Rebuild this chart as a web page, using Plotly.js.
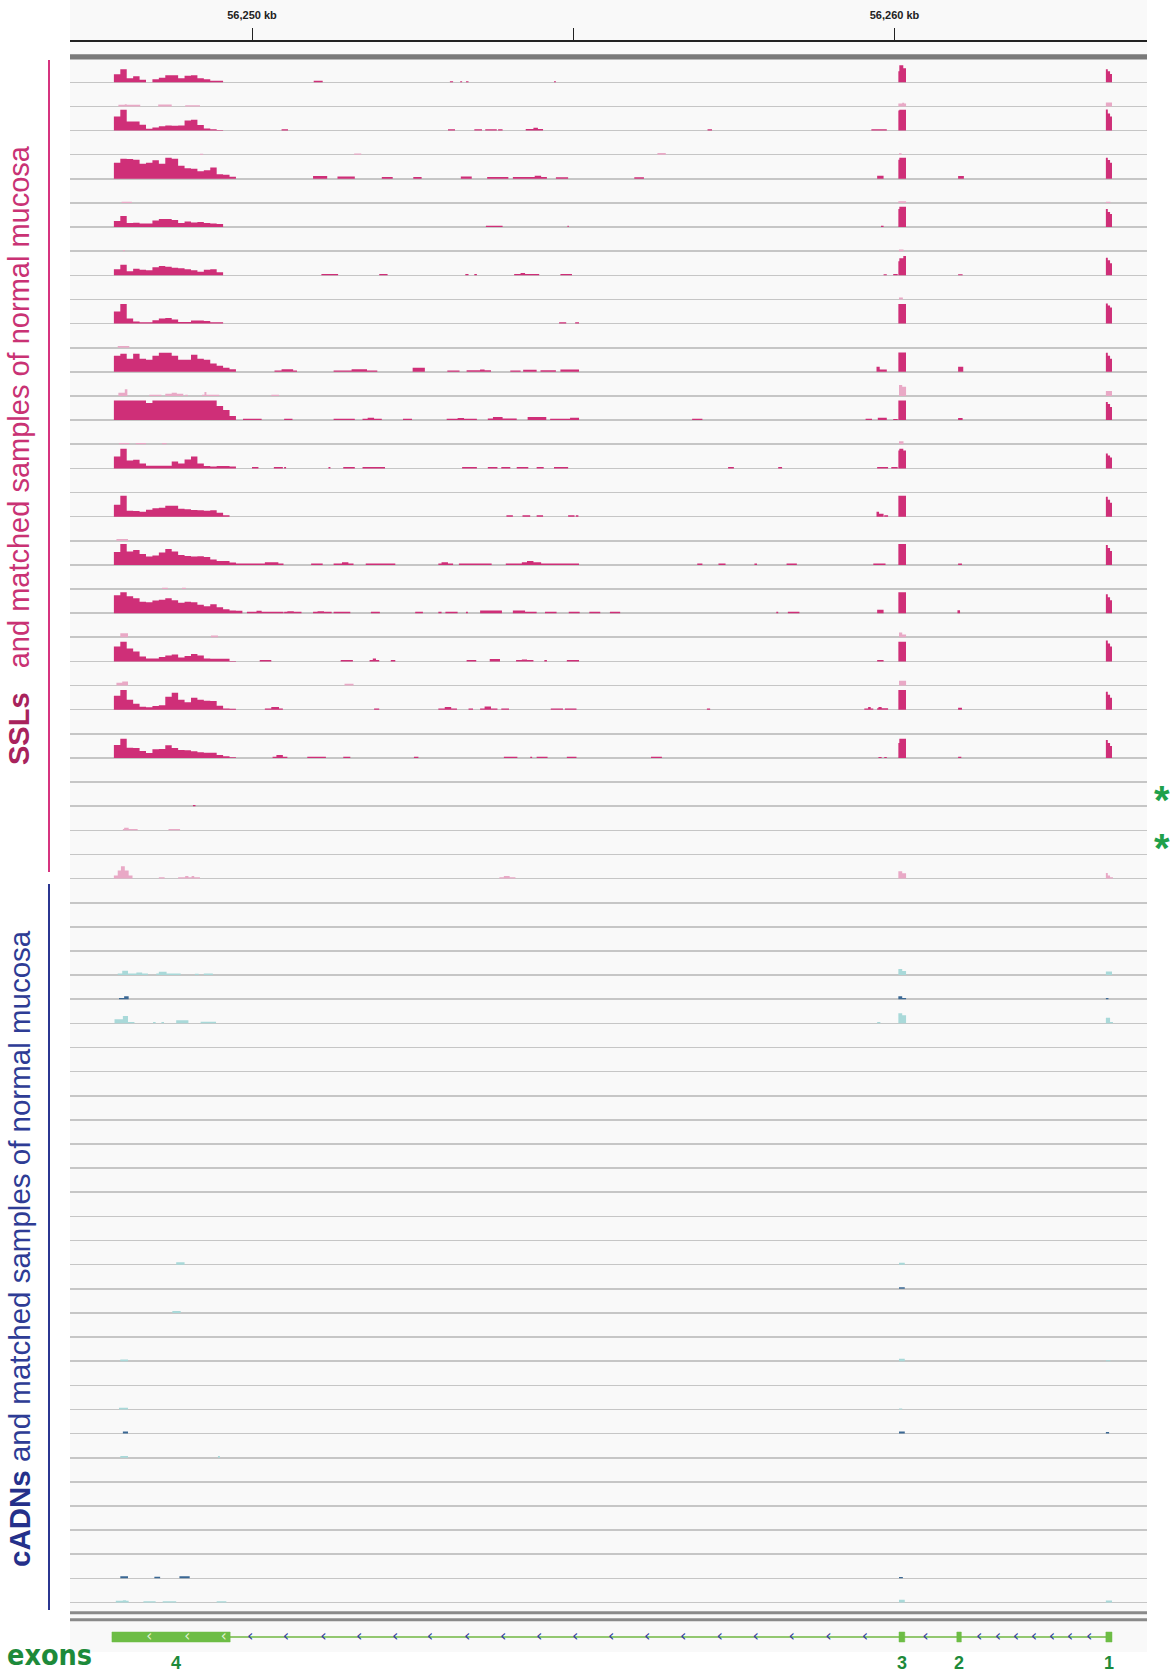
<!DOCTYPE html>
<html>
<head>
<meta charset="utf-8">
<script src="https://cdn.plot.ly/plotly-3.0.1.min.js"></script>
<style>html,body{margin:0;padding:0;background:#fff;}#chart{width:1172px;height:1673px;}</style>
</head>
<body>
<div id="chart"></div>
<script>
// ---------- axis / ruler ----------
const X_RANGE = [56247.167, 56263.930];
const RULER_TICKS = [56250, 56255, 56260];
const RULER_TEXT = ['<b>56,250 kb</b>', '', '<b>56,260 kb</b>'];

// ---------- shared coverage grid (3' UTR bins, exon 3 and exon 1 sub-bins), kb ----------
const GRID_START = [56247.85,56247.95,56248.05,56248.15,56248.25,56248.35,56248.45,56248.55,56248.65,56248.75,56248.85,56248.95,56249.05,56249.15,56249.25,56249.35,56249.45,56249.55,56249.65,56249.75, 56260.06,56260.075,56260.137, 56263.29,56263.32,56263.355];
const GRID_END   = [56247.95,56248.05,56248.15,56248.25,56248.35,56248.45,56248.55,56248.65,56248.75,56248.85,56248.95,56249.05,56249.15,56249.25,56249.35,56249.45,56249.55,56249.65,56249.75,56249.85, 56260.075,56260.137,56260.179, 56263.32,56263.355,56263.385];

// ---------- SSL tumour coverage on the grid ----------
const r01_cov = [8,13,4,6,2.5,0,3,4.5,7,7,4,6.5,7,4,3,1.5,1.5,0,0,0, 11,17,14, 13,11,8.3];
const r03_cov = [14,20.7,9,9,5.7,1.7,3,4.3,5,4.7,5,10,10.7,5.5,2,1.3,0.5,0,0,0, 20,20.7,20.7, 21,17,14];
const r05_cov = [16,20,19.7,19,15,16,18.5,15,21,20,13,10.5,10,7.5,8.5,11.3,4.5,4,2,0, 19,21,21, 21,18.7,16];
const r07_cov = [6,11,4,4.3,3.5,3.5,6.5,8,8,7,4,5.5,4.7,5,4,3.5,3,0,0,0, 18,20.3,20.3, 18,15,13];
const r09_cov = [6,10.5,4,6.5,5.5,5,8,9.3,8.5,7.7,7,6,5,3.7,5.7,6,3,0,0,0, 14,17,19.3, 17.7,15,12];
const r11_cov = [12,19.7,5,2,1.3,1.3,3.3,5,5.7,4,1.5,1.7,3,3,2.5,1.3,1.3,0,0,0, 19.7,19.7,19.7, 20,18,16];
const r13_cov = [16,18,13,18,13,12,16,19,19,16,12,12,17,13,12,8.3,6,4,2.5,0, 19.3,19.3,19.3, 19,16,13];
const r15_cov = [19.7,19.7,19.7,19.7,19.7,17,19.7,19.7,19.7,19.7,19.7,19.7,19.7,19.7,19.7,19.7,14,10,4,0, 19.7,19.7,19.7, 18,16,13];
const r17_cov = [12,19.7,8,8.7,5,2.7,2.7,2.7,2.7,7,5,9,12,5,2.5,2,2.5,2.3,2,0, 18,19.7,18, 15,13,11];
const r19_cov = [12,21,6,5.7,5,7,8.3,9,11,11,8,7.5,6.7,6.5,6,6.5,4,1.3,0,0, 21,21,21, 20,17,14];
const r21_cov = [13,21,13.5,15,11,8.5,9.5,12.5,16,13.5,10,9,8.3,8.7,8,5.5,4,4,2.3,1.5, 21,21,21, 20,17,14];
const r23_cov = [18,21,17,15,11.5,11,12.7,13.3,15,13,10.3,11.5,11,8.5,7,9,6,4,2.7,2.5, 21,21,21, 19,16,13];
const r25_cov = [15,19.7,13,10,5,3,3,4.5,6,7,4,5.3,7.5,6,3,2.7,2.7,2.7,0.5,0, 19.7,19.7,19.7, 21,18,15];
const r27_cov = [14,19.7,10,6,3,2.5,3.7,4.5,13,17,10,7.5,12,10,9,8.7,4,1.3,1,0, 19.7,19.7,19.7, 18,15,12];
const r29_cov = [13,19.3,10.3,10,7,5,8.7,9,12.7,10,8,7.7,6.7,5.7,5.3,5.3,3,1.7,0.7,0, 15,19.3,19.3, 18,15,12];

// ---------- other covered blocks per track: [start kb, end kb, height] ----------
const r01_blk = [[56250.96,56251.10,1.5],[56253.08,56253.13,1],[56253.24,56253.27,1],[56253.33,56253.37,1],[56254.70,56254.73,1]];
const r02_blk = [[56247.92,56248.26,1.7],[56248.02,56248.05,2.3],[56248.54,56248.75,2],[56248.96,56249.19,1.3],[56260.06,56260.18,3],[56260.12,56260.15,3.8],[56263.29,56263.385,4]];
const r03_blk = [[56250.46,56250.56,1.3],[56253.05,56253.16,1.3],[56253.46,56253.58,1.3],[56253.63,56253.81,1.3],[56253.83,56253.90,1.3],[56254.26,56254.53,1.5],[56254.38,56254.45,2.7],[56257.09,56257.16,1.3],[56259.64,56259.88,1.2]];
const r04_blk = [[56249.19,56249.24,1],[56251.59,56251.70,1.3],[56256.31,56256.44,1.7],[56260.07,56260.11,1.5]];
const r05_blk = [[56250.95,56251.17,2.7],[56251.33,56251.60,2.3],[56252.02,56252.19,1.7],[56252.51,56252.64,1.7],[56253.25,56253.42,2.3],[56253.66,56253.99,1.7],[56254.06,56254.59,1.7],[56254.40,56254.50,3],[56254.73,56254.92,1.5],[56255.95,56256.10,1.5],[56259.73,56259.83,3],[56260.99,56261.08,2.7]];
const r06_blk = [[56247.97,56248.13,1.3],[56260.06,56260.18,1.7],[56263.29,56263.36,1.3]];
const r07_blk = [[56253.64,56253.90,1.3],[56254.91,56254.93,1.3],[56259.79,56259.83,1.3]];
const r08_blk = [[56247.99,56248.02,1.3],[56260.07,56260.14,1.7]];
const r09_blk = [[56251.08,56251.34,1.3],[56251.98,56252.11,1.3],[56253.32,56253.37,1.3],[56253.46,56253.50,1.3],[56254.08,56254.47,1.3],[56254.18,56254.25,2.3],[56254.80,56254.98,1.3],[56259.83,56259.88,1],[56259.98,56260.05,1.3],[56260.99,56261.06,1]];
const r10_blk = [[56260.07,56260.13,2]];
const r11_blk = [[56254.78,56254.89,1.3],[56255.03,56255.09,1.3]];
const r12_blk = [[56247.91,56248.09,1.7]];
const r13_blk = [[56250.35,56250.70,1.3],[56250.46,56250.64,2.7],[56251.27,56251.95,1.3],[56251.55,56251.79,2.7],[56252.50,56252.69,4],[56253.04,56253.23,1.3],[56253.34,56253.72,1.5],[56253.55,56253.62,2.3],[56254.02,56254.18,1.3],[56254.22,56254.43,2],[56254.49,56254.73,1.7],[56254.80,56255.09,2.3],[56259.72,56259.77,5],[56259.77,56259.88,2.3],[56260.99,56261.07,5]];
const r14_blk = [[56247.92,56248.02,3.3],[56248.02,56248.06,6.7],[56248.40,56248.59,1.3],[56248.65,56248.93,2.3],[56248.75,56248.83,3.3],[56248.96,56249.00,1.3],[56249.22,56249.49,1.3],[56249.26,56249.29,4],[56250.30,56250.42,1.3],[56260.07,56260.12,11],[56260.12,56260.18,9.3],[56263.29,56263.385,5]];
const r15_blk = [[56249.86,56250.15,1.3],[56250.50,56250.63,1.3],[56251.27,56251.60,1.3],[56251.72,56252.02,1.3],[56251.80,56251.90,2.3],[56252.35,56252.49,1.3],[56253.03,56253.50,1.3],[56253.20,56253.30,2],[56253.67,56254.12,1.5],[56253.75,56253.90,3],[56254.29,56254.58,3],[56254.64,56255.09,1.3],[56254.95,56255.09,2.3],[56256.85,56257.01,1.3],[56259.55,56259.65,1.3],[56259.74,56259.88,2.3],[56259.98,56260.05,1],[56260.99,56261.06,2]];
const r16_blk = [[56247.93,56248.09,1.3],[56248.19,56248.35,1.3],[56248.60,56248.67,1.3],[56260.07,56260.14,3]];
const r17_blk = [[56250.00,56250.10,1.3],[56250.34,56250.48,1.3],[56250.50,56250.53,1.3],[56251.19,56251.22,1.3],[56251.42,56251.60,1.3],[56251.72,56252.07,1.3],[56253.27,56253.50,1.3],[56253.67,56253.82,1.3],[56253.88,56254.02,1.3],[56254.12,56254.30,1.3],[56254.43,56254.54,1.3],[56254.70,56254.92,1.3],[56257.41,56257.50,1.3],[56258.19,56258.25,1.3],[56259.73,56259.90,1.3],[56259.95,56260.05,1.3]];
const r19_blk = [[56253.96,56254.06,1.3],[56254.21,56254.33,1.3],[56254.43,56254.53,1.3],[56254.92,56255.02,1.3],[56255.04,56255.08,1.3],[56259.72,56259.76,5],[56259.76,56259.83,3],[56259.84,56259.90,1.3]];
const r20_blk = [[56247.89,56248.07,1.7]];
const r21_blk = [[56249.85,56250.49,1.3],[56250.20,56250.41,2.7],[56250.92,56251.10,1.3],[56251.27,56251.58,1.3],[56251.40,56251.50,2.7],[56251.77,56252.23,1.3],[56252.90,56253.13,1.3],[56252.95,56253.05,2.7],[56253.22,56253.73,1.3],[56253.95,56255.09,1.3],[56254.20,56254.50,2.7],[56254.28,56254.38,4],[56256.93,56257.01,1.3],[56257.26,56257.37,1.3],[56257.82,56257.86,1.3],[56258.32,56258.48,1.3],[56259.67,56259.86,1.3],[56260.99,56261.05,1.3]];
const r22_blk = [[56248.60,56248.69,1.3],[56248.91,56248.97,1.3]];
const r23_blk = [[56249.92,56250.49,1.3],[56250.07,56250.15,2.3],[56250.50,56250.77,1.5],[56250.55,56250.65,2],[56250.95,56251.24,1.5],[56251.02,56251.12,2],[56251.27,56251.53,1.3],[56251.85,56251.99,1.3],[56252.54,56252.66,1.3],[56252.90,56252.95,1.3],[56253.01,56253.20,1.3],[56253.33,56253.36,1.3],[56253.55,56253.89,2.7],[56254.06,56254.25,2.7],[56254.25,56254.43,1.3],[56254.56,56254.74,1.3],[56254.93,56255.10,1.3],[56255.25,56255.42,1.3],[56255.57,56255.73,1.3],[56258.16,56258.19,1.3],[56258.34,56258.52,1.3],[56259.73,56259.83,3.5],[56260.98,56261.02,3]];
const r24_blk = [[56247.95,56248.07,4],[56249.36,56249.47,1.7],[56260.07,56260.12,4.7],[56260.12,56260.18,2.7]];
const r25_blk = [[56250.12,56250.30,1.3],[56251.38,56251.57,1.3],[56251.83,56251.98,1.3],[56251.88,56251.93,3],[56252.16,56252.23,1.3],[56253.34,56253.49,1.3],[56253.70,56253.86,2.3],[56254.11,56254.38,1.3],[56254.20,56254.28,2],[56254.55,56254.59,1.3],[56254.90,56255.09,1.3],[56259.73,56259.83,1.3]];
const r26_blk = [[56247.89,56247.98,2.7],[56247.98,56248.07,4],[56251.44,56251.58,1.7],[56260.07,56260.18,4.7]];
const r27_blk = [[56250.20,56250.48,1.3],[56250.30,56250.42,2.7],[56251.90,56251.98,1.3],[56252.90,56253.19,1.3],[56253.00,56253.10,2.7],[56253.37,56253.44,1.3],[56253.55,56253.82,1.3],[56253.62,56253.72,3.3],[56253.88,56254.00,1.3],[56254.65,56254.84,1.3],[56254.87,56255.05,1.3],[56257.08,56257.13,1.3],[56259.53,56259.67,1.3],[56259.59,56259.63,2.7],[56259.73,56259.90,1.5],[56259.75,56259.80,2.7],[56260.99,56261.05,2]];
const r29_blk = [[56250.32,56250.55,1.3],[56250.38,56250.48,3],[56250.86,56251.15,1.3],[56251.42,56251.53,1.3],[56252.52,56252.59,1.3],[56253.92,56254.13,1.3],[56254.33,56254.36,1.3],[56254.43,56254.60,1.3],[56254.90,56255.05,1.3],[56256.21,56256.38,1.3],[56259.75,56259.80,1],[56259.84,56259.88,1],[56260.99,56261.04,1.3]];
const r31_blk = [[56249.08,56249.12,1.3]];
const r32_blk = [[56247.99,56248.22,1.3],[56248.01,56248.08,2.7],[56248.70,56248.88,1.3]];
const r34_blk = [[56247.85,56247.91,3],[56247.91,56247.96,8],[56247.96,56248.02,12.3],[56248.02,56248.08,8],[56248.08,56248.14,3],[56248.55,56248.64,1.3],[56248.85,56249.19,1.3],[56248.96,56249.01,2.7],[56249.06,56249.10,2.7],[56253.85,56254.10,1.3],[56253.92,56254.01,2.7],[56260.06,56260.12,7.3],[56260.12,56260.18,5.3],[56263.29,56263.32,5.7],[56263.32,56263.355,3],[56263.355,56263.40,1.3]];
// cADN tracks
const r38_blk = [[56247.91,56248.38,1.7],[56247.98,56248.07,4.3],[56248.20,56248.29,2.7],[56248.51,56248.89,1.7],[56248.55,56248.67,3.3],[56249.11,56249.17,1.3],[56249.25,56249.39,1.7],[56260.06,56260.12,6],[56260.12,56260.18,4],[56263.29,56263.385,3.7]];
const r39_blk = [[56247.93,56248.01,1.3],[56248.01,56248.08,3],[56260.06,56260.12,3],[56260.12,56260.18,1.3],[56263.29,56263.33,1.3]];
const r40_blk = [[56247.86,56247.99,4],[56247.99,56248.07,7.3],[56248.07,56248.17,1.3],[56248.46,56248.50,1.3],[56248.59,56248.63,1.3],[56248.82,56249.01,3],[56249.20,56249.44,1.7],[56259.73,56259.78,1.3],[56260.06,56260.12,10],[56260.12,56260.18,8],[56263.29,56263.355,5.7],[56263.355,56263.40,1.3]];
const r50_blk = [[56248.82,56248.95,2.3],[56260.07,56260.16,2]];
const r51_blk = [[56260.07,56260.16,1.5]];
const r52_blk = [[56248.76,56248.89,2]];
const r54_blk = [[56247.95,56248.07,1.7],[56260.07,56260.16,2.5],[56263.29,56263.36,1]];
const r56_blk = [[56247.93,56248.07,1.7],[56260.07,56260.12,1]];
const r57_blk = [[56247.99,56248.07,2],[56260.07,56260.16,2],[56263.29,56263.34,1.5]];
const r58_blk = [[56247.95,56248.07,1.7],[56249.47,56249.50,1.7]];
const r63_blk = [[56247.95,56248.07,2],[56248.48,56248.57,1.7],[56248.87,56249.03,2],[56260.07,56260.13,1.3]];
const r64_blk = [[56247.88,56248.08,1.7],[56247.99,56248.04,2.3],[56248.31,56248.50,1.3],[56248.61,56248.82,1.3],[56249.45,56249.60,1.3],[56260.07,56260.16,2.7],[56263.29,56263.385,2]];

const ROW_COV = [r01_cov,null,r03_cov,null,r05_cov,null,r07_cov,null,r09_cov,null,r11_cov,null,r13_cov,null,r15_cov,null,r17_cov,null,r19_cov,null,r21_cov,null,r23_cov,null,r25_cov,null,r27_cov,null,r29_cov,
  null,null,null,null,null,null,null,null,null,null,null,null,null,null,null,null,null,null,null,null,null,null,null,null,null,null,null,null,null,null,null,null,null,null,null,null];
const ROW_BLK = [r01_blk,r02_blk,r03_blk,r04_blk,r05_blk,r06_blk,r07_blk,r08_blk,r09_blk,r10_blk,r11_blk,r12_blk,r13_blk,r14_blk,r15_blk,r16_blk,r17_blk,[],
  r19_blk,r20_blk,r21_blk,r22_blk,r23_blk,r24_blk,r25_blk,r26_blk,r27_blk,[],r29_blk,[],r31_blk,r32_blk,[],r34_blk,
  [],[],[],r38_blk,r39_blk,r40_blk,[],[],[],[],[],[],[],[],[],r50_blk,r51_blk,r52_blk,[],r54_blk,[],r56_blk,r57_blk,r58_blk,[],[],[],[],r63_blk,r64_blk];

// ---------- gene model ----------
const EXON_START = [56247.82, 56260.07, 56260.97, 56263.29];
const EXON_END   = [56249.66, 56260.16, 56261.04, 56263.385];
const EXON_LABEL = ['4', '3', '2', '1'];
const EXON_LABEL_SHIFT = [5, 0, 0, 0];
const CHEVRONS = [56249.97,56250.53,56251.11,56251.67,56252.23,56252.77,56253.35,56253.91,56254.47,56255.03,56255.59,56256.15,56256.71,56257.28,56257.84,56258.40,56258.97,56259.54,56260.48,56261.32,56261.61,56261.89,56262.17,56262.45,56262.73,56263.03];
const CHEVRONS_IN_EXON = [56248.40, 56248.99, 56249.56];

// ---------- styling ----------
const H = 1673;
const FONT = 'Liberation Sans, Arial, Helvetica, sans-serif';
const SSL_T = '#cf2f78', SSL_N = '#e9a9c6', ADN_T = '#3b6894', ADN_N = '#a9d9d9';
const N_ROWS = 64, FIRST_BASE = 82.3, ROW_STEP = 24.13, Y_TOP = 22.63, Y_BOT = 1.5;
const py = px => 1 - px / H;

function stepXY(cov, blk) {
  const segs = [];
  if (cov) cov.forEach((h, i) => { if (h > 0) segs.push([GRID_START[i], GRID_END[i], h]); });
  (blk || []).forEach(b => segs.push(b));
  const edges = Array.from(new Set(segs.flatMap(s => [s[0], s[1]]))).sort((a, b) => a - b);
  const x = [X_RANGE[0]], y = [0];
  for (let i = 0; i < edges.length - 1; i++) {
    const a = edges[i], b = edges[i + 1], m = (a + b) / 2;
    let h = 0;
    segs.forEach(s => { if (s[0] <= m && s[1] >= m && s[2] > h) h = s[2]; });
    x.push(a); y.push(h);
  }
  if (edges.length) { x.push(edges[edges.length - 1]); y.push(0); }
  x.push(X_RANGE[1]); y.push(0);
  return { x, y };
}

const traces = [];
const layout = {
  width: 1172, height: H,
  margin: { l: 70, r: 25, t: 0, b: 0 },
  paper_bgcolor: '#ffffff', plot_bgcolor: 'rgba(0,0,0,0)',
  showlegend: false,
  font: { family: FONT },
  xaxis: {
    range: X_RANGE, domain: [0, 1], anchor: 'free', position: py(40.5), side: 'top',
    tickvals: RULER_TICKS, ticktext: RULER_TEXT, ticks: 'outside', ticklen: 12, tickwidth: 1, tickcolor: '#222',
    ticklabelstandoff: 4,
    showline: true, linecolor: '#222', linewidth: 2, showgrid: false, zeroline: false,
    tickfont: { size: 11, color: '#222', family: FONT }, fixedrange: true
  },
  shapes: [], annotations: []
};

for (let n = 1; n <= N_ROWS; n++) {
  const base = FIRST_BASE + (n - 1) * ROW_STEP;
  const key = n === 1 ? 'yaxis' : 'yaxis' + n;
  const ref = n === 1 ? 'y' : 'y' + n;
  layout[key] = {
    domain: [py(base + Y_BOT), py(base - Y_TOP)], range: [-Y_BOT, Y_TOP], anchor: 'x',
    showticklabels: false, ticks: '', showgrid: false, showline: false,
    zeroline: true, zerolinecolor: '#c6c6c6', zerolinewidth: 1.6, fixedrange: true
  };
  const color = n <= 34 ? (n % 2 ? SSL_T : SSL_N) : (n % 2 ? ADN_T : ADN_N);
  const xy = stepXY(ROW_COV[n - 1], ROW_BLK[n - 1]);
  traces.push({
    type: 'scatter', mode: 'lines', x: xy.x, y: xy.y, xaxis: 'x', yaxis: ref,
    line: { shape: 'hv', width: 0, color: color }, fill: 'tozeroy', fillcolor: color, hoverinfo: 'skip'
  });
}

// gene track axis
layout.yaxis65 = { domain: [py(1647), py(1627)], range: [-1, 1], anchor: 'x', visible: false, fixedrange: true };
traces.push({
  type: 'scatter', mode: 'lines', x: [EXON_START[0], EXON_END[EXON_END.length - 1]], y: [0, 0],
  xaxis: 'x', yaxis: 'y65', line: { color: '#93c870', width: 2 }, hoverinfo: 'skip'
});
const ex = [], ey = [];
EXON_START.forEach((s, i) => {
  const e = EXON_END[i];
  ex.push(s, e, e, s, s, null); ey.push(-0.5, -0.5, 0.5, 0.5, -0.5, null);
});
traces.push({
  type: 'scatter', mode: 'lines', x: ex, y: ey, xaxis: 'x', yaxis: 'y65',
  fill: 'toself', fillcolor: '#6dbd45', line: { color: '#6dbd45', width: 0.5 }, hoverinfo: 'skip'
});
traces.push({
  type: 'scatter', mode: 'text', x: CHEVRONS, y: CHEVRONS.map(() => 0), text: CHEVRONS.map(() => '‹'),
  textposition: 'middle center', textfont: { size: 16, color: '#2f3da0', family: 'DejaVu Sans' },
  xaxis: 'x', yaxis: 'y65', hoverinfo: 'skip'
});
traces.push({
  type: 'scatter', mode: 'text', x: CHEVRONS_IN_EXON, y: CHEVRONS_IN_EXON.map(() => 0), text: CHEVRONS_IN_EXON.map(() => '‹'),
  textposition: 'middle center', textfont: { size: 15, color: '#e3f2d3', family: 'DejaVu Sans' },
  xaxis: 'x', yaxis: 'y65', hoverinfo: 'skip'
});

// decorations
const sh = layout.shapes;
sh.push({ type: 'rect', xref: 'paper', yref: 'paper', x0: 0, x1: 1, y0: py(1652), y1: 1, fillcolor: '#f9f9f9', line: { width: 0 }, layer: 'below' });
sh.push({ type: 'rect', xref: 'paper', yref: 'paper', x0: 0, x1: 1, y0: py(59.5), y1: py(54.3), fillcolor: '#7a7a7a', line: { width: 0 } });
sh.push({ type: 'rect', xref: 'paper', yref: 'paper', x0: 0, x1: 1, y0: py(1614.3), y1: py(1611.3), fillcolor: '#8a8a8a', line: { width: 0 } });
sh.push({ type: 'rect', xref: 'paper', yref: 'paper', x0: 0, x1: 1, y0: py(1621.3), y1: py(1618.3), fillcolor: '#8a8a8a', line: { width: 0 } });
const lineX = (49 - 70) / 1077;
sh.push({ type: 'line', xref: 'paper', yref: 'paper', x0: lineX, x1: lineX, y0: py(60), y1: py(872), line: { color: '#d6347f', width: 2 } });
sh.push({ type: 'line', xref: 'paper', yref: 'paper', x0: lineX, x1: lineX, y0: py(884), y1: py(1610), line: { color: '#2b3691', width: 2 } });

const an = layout.annotations;
const labelX = (19 - 70) / 1077;
an.push({
  xref: 'paper', yref: 'paper', x: labelX, y: py(455), textangle: -90, showarrow: false,
  xanchor: 'center', yanchor: 'middle',
  text: '<b><span style="color:#a8235c">SSLs</span></b>\u00a0\u00a0 <span style="color:#c93274">and matched samples of normal mucosa</span>',
  font: { size: 29, family: FONT }
});
an.push({
  xref: 'paper', yref: 'paper', x: labelX, y: py(1249), textangle: -90, showarrow: false,
  xanchor: 'center', yanchor: 'middle',
  text: '<b><span style="color:#25308a">cADNs</span></b> <span style="color:#2e3c95">and matched samples of normal mucosa</span>',
  font: { size: 29.5, family: FONT }
});
['y31', 'y33'].forEach(r => an.push({
  xref: 'paper', yref: r, x: (1162 - 70) / 1077, y: 10.5, text: '<b>*</b>', showarrow: false,
  xanchor: 'center', yanchor: 'middle', yshift: -4, font: { size: 40, color: '#1fa04b', family: FONT }
}));
an.push({
  xref: 'paper', yref: 'paper', x: (5 - 70) / 1077, y: py(1655), xanchor: 'left', yanchor: 'middle', showarrow: false,
  text: '<b>exons</b>', font: { size: 28.5, color: '#1d8a3a', family: 'Liberation Sans Narrow, Arial Narrow, DejaVu Sans Condensed, sans-serif' }
});
EXON_LABEL.forEach((t, i) => an.push({
  xref: 'x', yref: 'paper', x: (EXON_START[i] + EXON_END[i]) / 2, y: py(1663), xanchor: 'center', yanchor: 'middle',
  xshift: EXON_LABEL_SHIFT[i],
  showarrow: false, text: '<b>' + t + '</b>', font: { size: 18, color: '#1d8a3a', family: FONT }
}));

Plotly.newPlot('chart', traces, layout, { staticPlot: true, displayModeBar: false });
</script>
</body>
</html>
